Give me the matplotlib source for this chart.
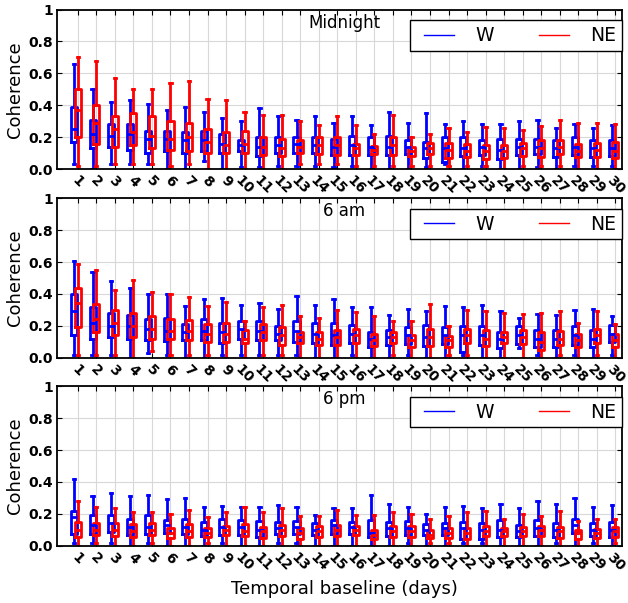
import numpy as np
import matplotlib
matplotlib.use("Agg")
import matplotlib.pyplot as plt
from matplotlib.lines import Line2D
from matplotlib.legend_handler import HandlerBase

days = list(range(1, 31))
day_labels = [str(d) for d in days]
ytick_vals = [0.0, 0.2, 0.4, 0.6, 0.8, 1.0]
ytick_labels = ["0.0", "0.2", "0.4", "0.6", "0.8", "1"]
panel_titles = ["Midnight", "6 am", "6 pm"]
series_names = ["W", "NE"]
series_colors = ["#0000ff", "#ff0000"]

# ---------- Midnight ----------
mid_w_lo = [0.03,0.00,0.03,0.03,0.03,0.00,0.00,0.05,0.00,0.01,0.01,0.02,0.02,0.02,0.01,0.02,0.00,0.00,0.00,0.01,0.03,0.00,0.02,0.00,0.00,0.01,0.00,0.02,0.02,0.02]
mid_w_q1 = [0.17,0.13,0.14,0.12,0.10,0.11,0.10,0.11,0.10,0.11,0.08,0.10,0.10,0.10,0.09,0.09,0.09,0.09,0.095,0.07,0.045,0.08,0.09,0.065,0.088,0.095,0.073,0.088,0.077,0.08]
mid_w_med = [0.25,0.22,0.21,0.22,0.19,0.19,0.18,0.18,0.16,0.15,0.14,0.15,0.16,0.15,0.14,0.15,0.14,0.14,0.14,0.13,0.13,0.13,0.14,0.12,0.14,0.14,0.13,0.14,0.13,0.13]
mid_w_q3 = [0.39,0.31,0.28,0.28,0.24,0.24,0.23,0.24,0.22,0.18,0.20,0.20,0.20,0.20,0.19,0.21,0.20,0.21,0.185,0.17,0.20,0.20,0.185,0.19,0.19,0.19,0.18,0.20,0.185,0.18]
mid_w_hi = [0.66,0.50,0.42,0.43,0.41,0.37,0.39,0.36,0.32,0.30,0.38,0.33,0.31,0.33,0.29,0.33,0.275,0.36,0.29,0.35,0.285,0.30,0.285,0.285,0.30,0.31,0.26,0.285,0.26,0.275]

mid_ne_lo = [0.02,0.02,0.03,0.03,0.03,0.02,0.03,0.00,0.00,0.00,0.00,0.00,0.03,0.03,0.03,0.02,0.02,0.02,0.02,0.02,0.02,0.02,0.02,0.00,0.02,0.02,0.02,0.00,0.00,0.00]
mid_ne_q1 = [0.20,0.16,0.14,0.15,0.13,0.12,0.11,0.10,0.10,0.10,0.09,0.08,0.10,0.094,0.09,0.09,0.095,0.09,0.08,0.094,0.07,0.077,0.06,0.067,0.08,0.077,0.094,0.073,0.073,0.067]
mid_ne_med = [0.37,0.29,0.25,0.23,0.21,0.19,0.20,0.17,0.15,0.16,0.14,0.13,0.14,0.15,0.15,0.13,0.12,0.15,0.11,0.13,0.12,0.11,0.11,0.11,0.13,0.13,0.14,0.11,0.12,0.11]
mid_ne_q3 = [0.50,0.40,0.33,0.35,0.33,0.30,0.29,0.25,0.23,0.24,0.20,0.19,0.18,0.20,0.20,0.16,0.145,0.20,0.14,0.165,0.165,0.155,0.15,0.15,0.165,0.18,0.18,0.155,0.165,0.17]
mid_ne_hi = [0.70,0.68,0.57,0.50,0.50,0.54,0.55,0.44,0.43,0.36,0.34,0.34,0.30,0.275,0.33,0.275,0.22,0.34,0.20,0.22,0.26,0.23,0.265,0.26,0.245,0.27,0.31,0.29,0.29,0.285]

# ---------- 6 am ----------
am_w_lo = [0.02,0.02,0.02,0.00,0.03,0.02,0.00,0.00,0.02,0.02,0.02,0.02,0.02,0.00,0.00,0.02,0.00,0.00,0.02,0.00,0.00,0.02,0.00,0.00,0.06,0.02,0.00,0.02,0.00,0.02]
am_w_q1 = [0.143,0.12,0.13,0.12,0.11,0.107,0.11,0.11,0.09,0.12,0.11,0.11,0.097,0.09,0.08,0.09,0.07,0.08,0.086,0.074,0.086,0.034,0.08,0.06,0.086,0.07,0.07,0.08,0.07,0.097]
am_w_med = [0.29,0.22,0.20,0.20,0.18,0.17,0.16,0.17,0.16,0.18,0.17,0.15,0.17,0.15,0.14,0.15,0.12,0.13,0.14,0.13,0.14,0.14,0.14,0.12,0.14,0.12,0.12,0.14,0.12,0.15]
am_w_q3 = [0.40,0.32,0.28,0.27,0.24,0.25,0.21,0.24,0.22,0.23,0.23,0.20,0.233,0.22,0.22,0.205,0.164,0.175,0.19,0.205,0.195,0.20,0.20,0.164,0.20,0.175,0.175,0.20,0.175,0.205]
am_w_hi = [0.605,0.54,0.48,0.44,0.40,0.40,0.325,0.365,0.375,0.33,0.34,0.305,0.385,0.33,0.37,0.315,0.315,0.27,0.305,0.294,0.325,0.315,0.33,0.29,0.25,0.275,0.27,0.30,0.305,0.26]

am_ne_lo = [0.02,0.02,0.02,0.00,0.04,0.02,0.02,0.02,0.00,0.00,0.02,0.02,0.00,0.00,0.00,0.00,0.00,0.02,0.00,0.00,0.02,0.02,0.00,0.00,0.00,0.00,0.02,0.00,0.02,0.00]
am_ne_q1 = [0.19,0.16,0.14,0.13,0.115,0.115,0.11,0.097,0.10,0.09,0.11,0.08,0.09,0.08,0.08,0.09,0.074,0.09,0.065,0.074,0.065,0.09,0.076,0.09,0.086,0.05,0.08,0.07,0.09,0.07]
am_ne_med = [0.34,0.24,0.22,0.20,0.18,0.17,0.17,0.15,0.15,0.12,0.16,0.14,0.13,0.12,0.13,0.14,0.11,0.13,0.11,0.13,0.11,0.14,0.12,0.13,0.13,0.10,0.12,0.11,0.14,0.11]
am_ne_q3 = [0.44,0.335,0.30,0.28,0.26,0.24,0.235,0.21,0.215,0.175,0.21,0.195,0.164,0.164,0.175,0.18,0.15,0.158,0.143,0.18,0.137,0.18,0.175,0.164,0.175,0.158,0.17,0.15,0.18,0.15]
am_ne_hi = [0.59,0.55,0.425,0.49,0.415,0.40,0.38,0.325,0.35,0.23,0.315,0.33,0.26,0.25,0.30,0.285,0.26,0.233,0.227,0.338,0.20,0.296,0.29,0.28,0.273,0.28,0.29,0.22,0.29,0.21]

# ---------- 6 pm ----------
pm_w_lo = [0.02,0.02,0.02,0.00,0.02,0.00,0.00,0.00,0.02,0.00,0.00,0.02,0.02,0.00,0.00,0.00,0.00,0.00,0.02,0.00,0.00,0.02,0.02,0.00,0.00,0.00,0.02,0.00,0.02,0.00]
pm_w_q1 = [0.073,0.073,0.084,0.067,0.071,0.078,0.071,0.061,0.067,0.067,0.057,0.071,0.073,0.067,0.073,0.073,0.057,0.061,0.067,0.067,0.067,0.04,0.04,0.057,0.057,0.061,0.057,0.08,0.061,0.057]
pm_w_med = [0.18,0.13,0.14,0.12,0.12,0.13,0.12,0.10,0.12,0.12,0.10,0.11,0.12,0.10,0.13,0.12,0.08,0.11,0.11,0.10,0.11,0.11,0.10,0.10,0.09,0.11,0.10,0.13,0.10,0.10]
pm_w_q3 = [0.22,0.19,0.19,0.17,0.19,0.16,0.165,0.15,0.168,0.16,0.157,0.15,0.157,0.14,0.16,0.15,0.16,0.15,0.155,0.136,0.145,0.15,0.14,0.16,0.13,0.16,0.145,0.17,0.14,0.15]
pm_w_hi = [0.42,0.31,0.33,0.31,0.32,0.29,0.30,0.24,0.25,0.24,0.245,0.256,0.245,0.193,0.235,0.235,0.32,0.26,0.24,0.20,0.24,0.25,0.235,0.26,0.235,0.283,0.26,0.30,0.24,0.256]

pm_ne_lo = [0.00,0.02,0.00,0.00,0.02,0.00,0.00,0.02,0.00,0.00,0.00,0.00,0.00,0.00,0.00,0.00,0.00,0.00,0.00,0.02,0.02,0.00,0.00,0.00,0.00,0.00,0.00,0.00,0.00,0.02]
pm_ne_q1 = [0.057,0.067,0.063,0.052,0.067,0.05,0.057,0.057,0.067,0.061,0.05,0.061,0.042,0.057,0.061,0.067,0.04,0.057,0.057,0.046,0.05,0.042,0.063,0.061,0.061,0.061,0.046,0.042,0.046,0.057]
pm_ne_med = [0.10,0.10,0.10,0.09,0.10,0.08,0.09,0.08,0.10,0.09,0.09,0.10,0.08,0.09,0.10,0.10,0.07,0.09,0.09,0.07,0.08,0.08,0.09,0.09,0.09,0.10,0.09,0.08,0.08,0.09]
pm_ne_q3 = [0.15,0.14,0.14,0.134,0.14,0.11,0.134,0.11,0.124,0.134,0.12,0.13,0.11,0.126,0.13,0.126,0.10,0.126,0.124,0.10,0.11,0.11,0.126,0.11,0.12,0.126,0.12,0.10,0.103,0.12]
pm_ne_hi = [0.28,0.24,0.235,0.21,0.214,0.20,0.224,0.178,0.214,0.245,0.21,0.235,0.187,0.187,0.224,0.193,0.193,0.214,0.20,0.168,0.187,0.21,0.22,0.166,0.20,0.187,0.22,0.155,0.168,0.168]

panels = [
    [(mid_w_lo, mid_w_q1, mid_w_med, mid_w_q3, mid_w_hi),
     (mid_ne_lo, mid_ne_q1, mid_ne_med, mid_ne_q3, mid_ne_hi)],
    [(am_w_lo, am_w_q1, am_w_med, am_w_q3, am_w_hi),
     (am_ne_lo, am_ne_q1, am_ne_med, am_ne_q3, am_ne_hi)],
    [(pm_w_lo, pm_w_q1, pm_w_med, pm_w_q3, pm_w_hi),
     (pm_ne_lo, pm_ne_q1, pm_ne_med, pm_ne_q3, pm_ne_hi)],
]


def make_stats(lo, q1, med, q3, hi):
    return [dict(whislo=a, q1=b, med=c, q3=d, whishi=e, fliers=[])
            for a, b, c, d, e in zip(lo, q1, med, q3, hi)]


class ShiftedLineHandler(HandlerBase):
    """Legend line occupying only the right part of the handle box."""
    frac = 0.78

    def create_artists(self, legend, orig_handle, xdescent, ydescent,
                       width, height, fontsize, trans):
        y = height / 2.0 - ydescent
        x0 = width * (1 - self.frac) - xdescent
        x1 = width - xdescent
        line = Line2D([x0, x1], [y, y], color=orig_handle.get_color(),
                      linewidth=orig_handle.get_linewidth())
        line.set_transform(trans)
        return [line]


plt.rcParams['font.family'] = ['DejaVu Sans']
fig = plt.figure(figsize=(6.28, 6.03), dpi=100)

left, width = 0.0912, 0.899
bottoms = [0.7197, 0.4068, 0.0950]
height = 0.2645
offsets = [-0.2, 0.0]
x = np.array(days, dtype=float)

for pi, (series, title) in enumerate(zip(panels, panel_titles)):
    ax = fig.add_axes([left, bottoms[pi], width, height])
    ax.set_axisbelow(True)
    ax.grid(True, color='#d8d8d8', linestyle='-', linewidth=0.8)
    for si, (vals, color) in enumerate(zip(series, series_colors)):
        lp = dict(color=color, linewidth=2.0)
        ax.bxp(make_stats(*vals), positions=x + offsets[si], widths=0.33,
               capwidths=0.12, showfliers=False, manage_ticks=False,
               boxprops=lp, whiskerprops=lp, capprops=lp, medianprops=lp)
    ax.set_xlim(-0.106, 30.35)
    ax.set_ylim(0, 1)
    ax.set_xticks(x)
    ax.set_xticklabels(day_labels, rotation=-45, ha='center', fontsize=10,
                       fontweight='bold')
    ax.set_yticks(ytick_vals)
    ax.set_yticklabels(ytick_labels, fontsize=10, fontweight='bold')
    ax.tick_params(direction='in', top=True, right=True, length=3.5,
                   width=0.8, pad=3)
    for sp in ax.spines.values():
        sp.set_linewidth(1.3)
    ax.set_ylabel("Coherence", fontsize=13)
    ax.yaxis.set_label_coords(-0.059, 0.5)
    ax.text(0.508, 0.975, title, transform=ax.transAxes, ha='center',
            va='top', fontsize=12)
    handles = [Line2D([], [], color=c, linewidth=1.0) for c in series_colors]
    leg = ax.legend(handles, series_names, loc='upper right',
                    bbox_to_anchor=(1.0, 1 - 11 / 160), borderaxespad=0,
                    ncol=2, fontsize=13.5, handlelength=2.0,
                    handletextpad=1.15, columnspacing=2.0, borderpad=0.3,
                    fancybox=False, framealpha=1, edgecolor='black',
                    handler_map={Line2D: ShiftedLineHandler()})
    leg.get_frame().set_linewidth(1.0)
    if pi == 2:
        ax.set_xlabel("Temporal baseline (days)", fontsize=13)
        ax.xaxis.set_label_coords(0.508, -0.215)

fig.savefig("out.png", dpi=100)
